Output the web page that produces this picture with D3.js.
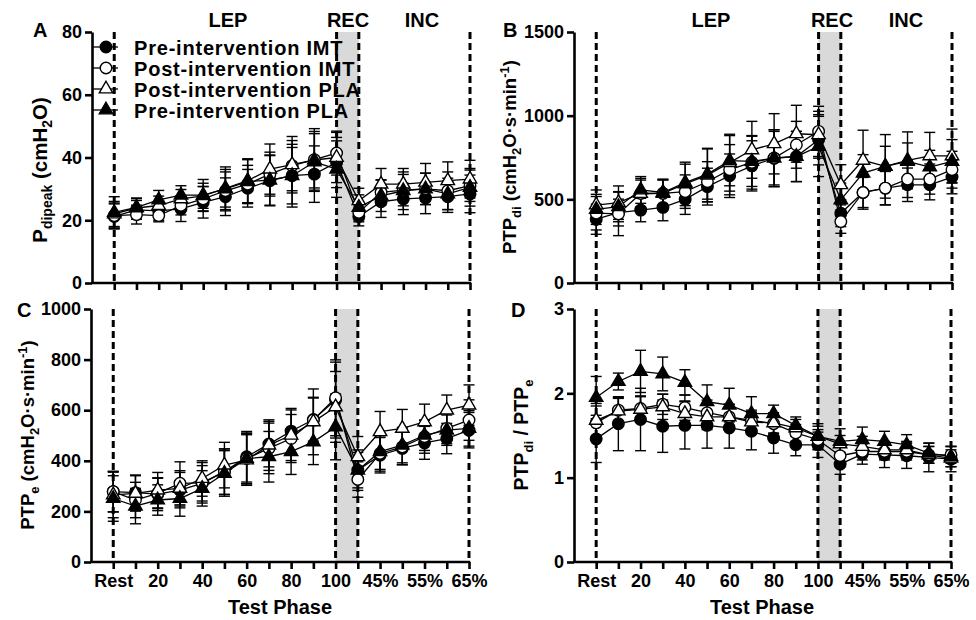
<!DOCTYPE html>
<html><head><meta charset="utf-8">
<script src="https://cdn.jsdelivr.net/npm/d3@7/dist/d3.min.js"></script>
<style>
body{margin:0;background:#fff;}
svg{display:block;}
text{font-family:"Liberation Sans",Arial,sans-serif;font-weight:bold;fill:#000;}
</style></head>
<body><svg id="c" width="976" height="620"></svg>
<script>
// ---- data ----
const categories = ["Rest","10","20","30","40","50","60","70","80","90","100","40%","45%","50%","55%","60%","65%"];
const shownTickLabels = ["Rest","20","40","60","80","100","45%","55%","65%"];
const seriesNames = ["Pre-intervention IMT","Post-intervention IMT","Post-intervention PLA","Pre-intervention PLA"];

// Panel A: Pdipeak (cmH2O)
const aPreIMT  = [21.2,23.3,23.0,23.6,25.7,27.5,30.2,32.6,34.2,34.7,38.4,21.2,25.9,26.8,27.1,27.5,28.4];
const aPostIMT = [21.5,21.8,21.5,24.7,26.8,29.4,31.5,34.7,37.4,39.3,41.4,22.5,28.9,29.6,30.0,29.4,31.0];
const aPostPLA = [22.0,23.9,24.7,26.8,27.8,30.2,32.6,36.3,37.7,39.2,40.0,26.2,31.5,31.5,32.1,32.6,33.1];
const aPrePLA  = [22.5,24.1,26.5,28.0,28.0,30.0,32.3,32.8,34.2,38.6,36.3,24.1,27.8,29.4,30.0,28.4,30.5];
const aSdPreIMT  = [4,3,3,4,5,6,6,8,9,9,8,3,5,5,5,5,6];
const aSdPostIMT = [4,3,2,3,4,6,6,7,8,9,7,3,4,5,5,6,5];
const aSdPostPLA = [4,3,3,3,4,6,7,8,9,10,8,4,5,5,6,6,6];
const aSdPrePLA  = [5,3,3,3,5,7,7,8,10,9,9,4,5,6,5,5,6];

// Panel B: PTPdi
const bPreIMT  = [381,421,436,452,500,576,641,700,746,756,856,417,541,567,587,587,633];
const bPostIMT = [417,413,535,536,546,605,677,721,746,826,906,367,541,567,621,621,677];
const bPostPLA = [466,480,535,536,592,645,719,796,832,892,886,587,733,697,733,760,760];
const bPrePLA  = [440,456,556,541,600,651,731,727,746,756,816,497,657,697,727,693,727];
const bSdPreIMT  = [90,80,70,80,90,110,130,150,160,150,150,80,90,100,100,90,100];
const bSdPostIMT = [100,130,80,80,100,120,150,160,170,140,150,70,100,100,110,90,110];
const bSdPostPLA = [90,100,90,80,130,160,170,170,180,170,140,120,180,190,170,140,160];
const bSdPrePLA  = [90,90,80,80,110,150,150,150,170,150,180,100,110,120,110,100,130];

// Panel C: PTPe
const cPreIMT  = [278,274,268,284,311,357,416,466,517,563,640,363,422,449,471,488,521];
const cPostIMT = [278,245,271,311,313,357,409,449,488,561,649,326,429,455,495,528,561];
const cPostPLA = [265,271,284,291,330,383,403,462,501,554,613,416,515,528,554,600,620];
const cPrePLA  = [251,221,245,251,291,350,409,416,436,475,534,363,436,462,501,521,528];
const cSdPreIMT  = [80,70,65,70,70,90,100,90,90,85,150,70,70,65,65,60,70];
const cSdPostIMT = [80,70,60,85,80,90,100,100,95,90,150,70,70,70,65,60,80];
const cSdPostPLA = [90,70,70,70,70,90,100,100,100,130,140,80,80,75,70,60,80];
const cSdPrePLA  = [90,70,60,70,70,90,100,100,90,90,130,80,70,70,60,60,70];

// Panel D: PTPdi / PTPe
const dPreIMT  = [1.46,1.64,1.69,1.61,1.62,1.62,1.59,1.55,1.47,1.39,1.39,1.16,1.28,1.27,1.26,1.24,1.22];
const dPostIMT = [1.65,1.80,1.82,1.87,1.83,1.77,1.72,1.68,1.64,1.53,1.45,1.26,1.31,1.31,1.31,1.27,1.27];
const dPostPLA = [1.68,1.79,1.81,1.84,1.76,1.72,1.72,1.66,1.65,1.59,1.49,1.40,1.37,1.33,1.33,1.27,1.23];
const dPrePLA  = [1.95,2.14,2.26,2.23,2.13,1.90,1.86,1.76,1.76,1.62,1.49,1.43,1.45,1.43,1.39,1.29,1.25];
const dSdPreIMT  = [0.28,0.32,0.37,0.31,0.28,0.27,0.24,0.22,0.18,0.13,0.15,0.12,0.12,0.15,0.15,0.17,0.15];
const dSdPostIMT = [0.20,0.15,0.15,0.12,0.15,0.15,0.15,0.12,0.12,0.10,0.12,0.10,0.10,0.10,0.10,0.10,0.10];
const dSdPostPLA = [0.20,0.15,0.15,0.15,0.15,0.15,0.15,0.12,0.12,0.10,0.12,0.10,0.12,0.10,0.10,0.10,0.10];
const dSdPrePLA  = [0.25,0.10,0.25,0.20,0.15,0.20,0.20,0.20,0.10,0.10,0.15,0.15,0.15,0.12,0.12,0.12,0.12];

const aTicks = [0,20,40,60,80];
const bTicks = [0,500,1000,1500];
const cTicks = [0,200,400,600,800,1000];
const dTicks = [0,1,2,3];

// ---- drawing ----
const svg = d3.select("#c");
const symType = [d3.symbolCircle, d3.symbolCircle, d3.symbolTriangle, d3.symbolTriangle];
const symFill = ["#000","#fff","#fff","#000"];
const symSize = [105,105,78,78];

function rich(textSel, parts, fs){
  let off = 0;
  parts.forEach(p=>{
    const [t, kind] = p;
    let target = kind==="sub" ? 5 : kind==="sup" ? -7 : 0;
    const ts = textSel.append("tspan").text(t).attr("dy", target-off);
    if(kind!=="n") ts.attr("font-size", Math.round(fs*0.68));
    off = target;
  });
}

function panel(cfg){
  const g = svg.append("g");
  const step = (cfg.xr - cfg.xl)/17;
  const x = d3.scalePoint().domain(categories).range([cfg.xl+step, cfg.xr]);
  const y = d3.scaleLinear().domain([0, cfg.ymax]).range([cfg.yb, cfg.yt]);
  // grey band
  g.append("rect").attr("x", x(categories[10])).attr("width", x(categories[11])-x(categories[10]))
    .attr("y", cfg.yt).attr("height", cfg.yb-cfg.yt).attr("fill","#d9d9d9");
  // dashed lines
  [0,10,11,16].forEach(i=>{
    g.append("line").attr("x1",x(categories[i])).attr("x2",x(categories[i]))
      .attr("y1",cfg.yt).attr("y2",cfg.yb).attr("stroke","#000").attr("stroke-width",3)
      .attr("stroke-dasharray","7,4");
  });
  // axes
  const ya = g.append("g").attr("transform",`translate(${cfg.xl},0)`)
    .call(d3.axisLeft(y).tickValues(cfg.ticks).tickFormat(d3.format("d")).tickSize(7).tickSizeOuter(0).tickPadding(3));
  const xa = g.append("g").attr("transform",`translate(0,${cfg.yb})`)
    .call(d3.axisBottom(x).tickSize(7).tickPadding(5)
      .tickFormat(d=> cfg.xlabels && shownTickLabels.includes(d) ? d : ""));
  xa.select(".domain").remove();
  g.append("line").attr("x1",cfg.xl-1).attr("x2",cfg.xr+1.2).attr("y1",cfg.yb).attr("y2",cfg.yb)
    .attr("stroke","#000").attr("stroke-width",2.6);
  [ya, xa].forEach(a=>{
    a.selectAll("path,line").attr("stroke","#000").attr("stroke-width",2.6);
    a.selectAll("text").attr("font-size",18).attr("font-weight","bold")
      .attr("font-family",'"Liberation Sans",Arial,sans-serif');
  });
  // series error bars
  cfg.series.forEach((s,k)=>{
    const vals = s.v, sd = s.sd;
    vals.forEach((v,i)=>{
      const cx = x(categories[i]);
      g.append("line").attr("x1",cx).attr("x2",cx).attr("y1",y(v-sd[i])).attr("y2",y(v+sd[i]))
        .attr("stroke","#000").attr("stroke-width",1.4);
      [v-sd[i], v+sd[i]].forEach(e=>{
        g.append("line").attr("x1",cx-5.5).attr("x2",cx+5.5).attr("y1",y(e)).attr("y2",y(e))
          .attr("stroke","#000").attr("stroke-width",1.4);
      });
    });
  });
  cfg.series.forEach((s,k)=>{
    g.append("path").datum(s.v)
      .attr("d", d3.line().x((d,i)=>x(categories[i])).y(d=>y(d)))
      .attr("fill","none").attr("stroke","#000").attr("stroke-width",1.3);
  });
  cfg.series.forEach((s,k)=>{
    g.selectAll(null).data(s.v).join("path")
      .attr("transform",(d,i)=>`translate(${x(categories[i])},${y(d)})`)
      .attr("d", d3.symbol().type(symType[k]).size(symSize[k]))
      .attr("fill",symFill[k]).attr("stroke","#000").attr("stroke-width",1.4);
  });
  // panel letter
  g.append("text").attr("x",cfg.lx).attr("y",cfg.ly).attr("font-size",20).text(cfg.letter);
  // y title
  const t = g.append("text").attr("transform",`translate(${cfg.tx},${cfg.tcy}) rotate(-90)`)
    .attr("text-anchor","middle").attr("font-size",cfg.tfs);
  rich(t, cfg.title, cfg.tfs);
  return {g,x,y};
}

const series = (a,b,c,d,sa,sb,sc,sd)=>[{v:a,sd:sa},{v:b,sd:sb},{v:c,sd:sc},{v:d,sd:sd}];

panel({xl:92,xr:470,yt:32,yb:283,ymax:80,ticks:aTicks,letter:"A",lx:33,ly:37,tx:47,tcy:170,tfs:20.5,
  title:[["P","n"],["dipeak","sub"],[" (cmH","n"],["2","sub"],["O)","n"]],
  series:series(aPreIMT,aPostIMT,aPostPLA,aPrePLA,aSdPreIMT,aSdPostIMT,aSdPostPLA,aSdPrePLA)});
panel({xl:574,xr:952,yt:32,yb:283,ymax:1500,ticks:bTicks,letter:"B",lx:503,ly:37,tx:516,tcy:157,tfs:18.5,
  title:[["PTP","n"],["di","sub"],[" (cmH","n"],["2","sub"],["O·s·min","n"],["-1","sup"],[")","n"]],
  series:series(bPreIMT,bPostIMT,bPostPLA,bPrePLA,bSdPreIMT,bSdPostIMT,bSdPostPLA,bSdPrePLA)});
panel({xl:91,xr:469,yt:309,yb:562,ymax:1000,ticks:cTicks,letter:"C",lx:17,ly:317,tx:34,tcy:435,tfs:18.5,xlabels:true,
  title:[["PTP","n"],["e","sub"],[" (cmH","n"],["2","sub"],["O·s·min","n"],["-1","sup"],[")","n"]],
  series:series(cPreIMT,cPostIMT,cPostPLA,cPrePLA,cSdPreIMT,cSdPostIMT,cSdPostPLA,cSdPrePLA)});
panel({xl:574,xr:951,yt:309,yb:562,ymax:3,ticks:dTicks,letter:"D",lx:511,ly:317,tx:528,tcy:435,tfs:19.5,xlabels:true,
  title:[["PTP","n"],["di","sub"],[" / PTP","n"],["e","sub"]],
  series:series(dPreIMT,dPostIMT,dPostPLA,dPrePLA,dSdPreIMT,dSdPostIMT,dSdPostPLA,dSdPrePLA)});

// phase labels
[[228,"LEP"],[348,"REC"],[422,"INC"],[711,"LEP"],[832,"REC"],[906,"INC"]].forEach(([cx,t])=>{
  svg.append("text").attr("x",cx).attr("y",27).attr("text-anchor","middle").attr("font-size",20).text(t);
});
// x titles
[280,762].forEach(cx=>{
  svg.append("text").attr("x",cx).attr("y",614).attr("text-anchor","middle").attr("font-size",20).text("Test Phase");
});

// legend in panel A
seriesNames.forEach((n,k)=>{
  const ly = [47,68,89,110][k];
  svg.append("line").attr("x1",93).attr("x2",118).attr("y1",ly).attr("y2",ly).attr("stroke","#000").attr("stroke-width",1.3);
  svg.append("path").attr("transform",`translate(106,${ly})`)
    .attr("d", d3.symbol().type(symType[k]).size(symSize[k]))
    .attr("fill",symFill[k]).attr("stroke","#000").attr("stroke-width",1.4);
  svg.append("text").attr("x",134).attr("y",ly+7.5).attr("font-size",20).attr("letter-spacing",0.8).text(n);
});
</script></body></html>
